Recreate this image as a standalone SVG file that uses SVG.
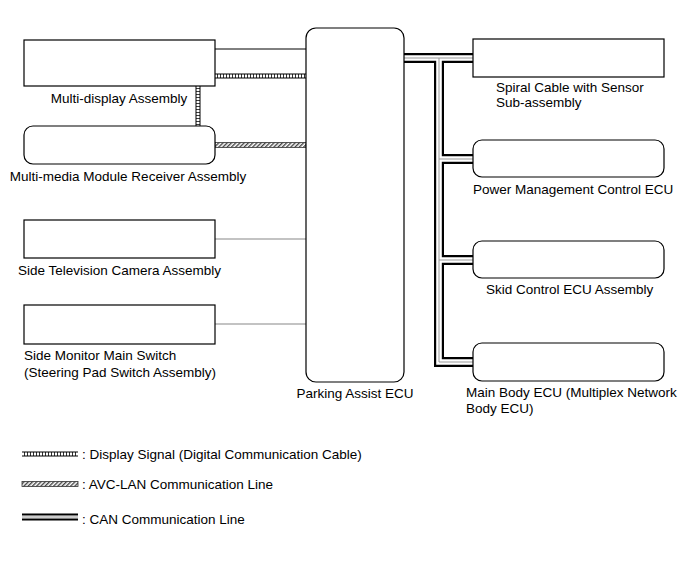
<svg xmlns="http://www.w3.org/2000/svg" width="691" height="564" viewBox="0 0 691 564">
<style>
.box{fill:#fff;stroke:#000;stroke-width:1.2}
.lbl{font-family:"Liberation Sans",Arial,sans-serif;font-size:13.5px;fill:#000}
.thin{stroke:#000;stroke-width:1;fill:none}
.grey{stroke:#888;stroke-width:1.2;fill:none}
.dsb{stroke:#000;stroke-width:5;fill:none}
.dsw{stroke:#fff;stroke-width:3;stroke-dasharray:2.2 0.8;fill:none}
.canb{stroke:#000;stroke-width:10;fill:none;stroke-linejoin:miter}
.canw{stroke:#fff;stroke-width:5.6;fill:none;stroke-linejoin:miter}
.cang{stroke:#999;stroke-width:1;fill:none}
</style>
<defs>
<pattern id="hatch" patternUnits="userSpaceOnUse" width="3" height="3" patternTransform="rotate(45)">
<rect width="3" height="3" fill="#fff"/>
<rect width="1.4" height="3" fill="#444"/>
</pattern>
</defs>
<g id="connectors">
<line class="thin" x1="215" y1="49" x2="306" y2="49"/>
<line class="dsb" x1="215" y1="76" x2="306" y2="76"/>
<line class="dsw" x1="215" y1="76" x2="306" y2="76"/>
<line class="dsb" x1="198" y1="86" x2="198" y2="126"/>
<line class="dsw" x1="198" y1="86" x2="198" y2="126"/>
<rect x="215" y="142.5" width="91" height="5" fill="url(#hatch)" stroke="#333" stroke-width="0.8"/>
<line class="grey" x1="215" y1="239" x2="306" y2="239"/>
<line class="grey" x1="215" y1="324" x2="306" y2="324"/>
<path class="canb" d="M404 58 H473 M439 58 V362 H473 M439 159 H473 M439 260 H473"/>
<path class="canw" d="M404 58 H473 M439 58 V362 H473 M439 159 H473 M439 260 H473"/>
<path class="cang" d="M404 58 H473 M439 58 V362 H473 M439 159 H473 M439 260 H473"/>
</g>
<g id="multi-display"><rect class="box" x="24" y="40" width="191" height="46"/><text class="lbl" x="119" y="103" text-anchor="middle">Multi-display Assembly</text></g>
<g id="multi-media"><rect class="box" x="24" y="126" width="191" height="38" rx="9"/><text class="lbl" x="128" y="181" text-anchor="middle">Multi-media Module Receiver Assembly</text></g>
<g id="side-tv"><rect class="box" x="24" y="220" width="191" height="38"/><text class="lbl" x="18" y="275">Side Television Camera Assembly</text></g>
<g id="side-monitor"><rect class="box" x="24" y="305" width="191" height="39"/><text class="lbl" x="24" y="360">Side Monitor Main Switch</text><text class="lbl" x="24" y="377">(Steering Pad Switch Assembly)</text></g>
<g id="parking-ecu"><rect class="box" x="306" y="28" width="98" height="354" rx="10"/><text class="lbl" x="355" y="398" text-anchor="middle">Parking Assist ECU</text></g>
<g id="spiral"><rect class="box" x="473" y="39" width="191" height="38"/><text class="lbl" x="496" y="92">Spiral Cable with Sensor</text><text class="lbl" x="496" y="107">Sub-assembly</text></g>
<g id="power"><rect class="box" x="473" y="140" width="191" height="37" rx="9"/><text class="lbl" x="473" y="194">Power Management Control ECU</text></g>
<g id="skid"><rect class="box" x="473" y="241" width="191" height="37" rx="9"/><text class="lbl" x="486" y="294">Skid Control ECU Assembly</text></g>
<g id="main-body"><rect class="box" x="473" y="343" width="191" height="38" rx="9"/><text class="lbl" x="466" y="397">Main Body ECU (Multiplex Network</text><text class="lbl" x="466" y="413">Body ECU)</text></g>
<g id="legend">
<line class="dsb" x1="22" y1="454" x2="78" y2="454"/>
<line class="dsw" x1="22" y1="454" x2="78" y2="454"/>
<text class="lbl" x="82" y="459">: Display Signal (Digital Communication Cable)</text>
<rect x="22" y="481.5" width="56" height="5" fill="url(#hatch)" stroke="#333" stroke-width="0.8"/>
<text class="lbl" x="82" y="489">: AVC-LAN Communication Line</text>
<line x1="22" y1="514.5" x2="78" y2="514.5" stroke="#000" stroke-width="2"/>
<line x1="22" y1="517" x2="78" y2="517" stroke="#999" stroke-width="1"/>
<line x1="22" y1="519.5" x2="78" y2="519.5" stroke="#000" stroke-width="2"/>
<text class="lbl" x="82" y="524">: CAN Communication Line</text>
</g>
</svg>
